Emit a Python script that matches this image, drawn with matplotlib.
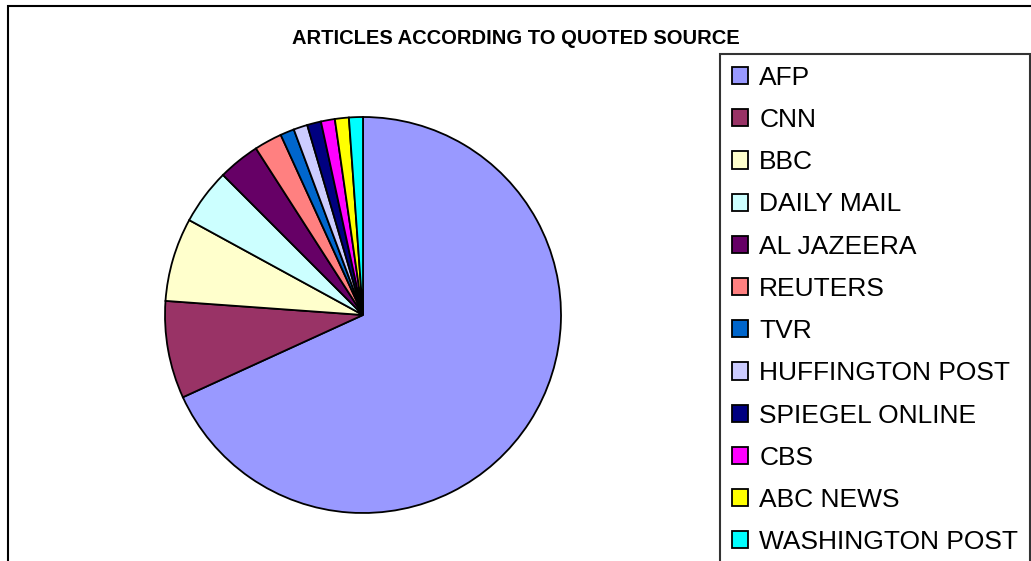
import matplotlib.pyplot as plt
from matplotlib.patches import Rectangle, Patch

# article counts per quoted source
sources = ["AFP", "CNN", "BBC", "DAILY MAIL", "AL JAZEERA", "REUTERS", "TVR",
           "HUFFINGTON POST", "SPIEGEL ONLINE", "CBS", "ABC NEWS",
           "WASHINGTON POST"]
counts = [60, 7, 6, 4, 3, 2, 1, 1, 1, 1, 1, 1]
colors = ["#9999FF", "#993366", "#FFFFCC", "#CCFFFF", "#660066", "#FF8080",
          "#0066CC", "#CCCCFF", "#000080", "#FF00FF", "#FFFF00", "#00FFFF"]
title = "ARTICLES ACCORDING TO QUOTED SOURCE"

W, H = 1031, 561
plt.rcParams['font.family'] = ['Liberation Sans', 'DejaVu Sans']


def main():
    fig = plt.figure(figsize=(W / 100, H / 100), dpi=100)

    # outer chart frame (runs off the right and bottom edge)
    fig.patches.append(Rectangle((8 / W, -0.1), 1.2, 1 - 6 / H + 0.1,
                                 transform=fig.transFigure, fill=False,
                                 edgecolor="black", linewidth=1.5))

    fig.text(516 / W, 1 - 39 / H, title, ha="center", va="center",
             fontsize=14.5, fontweight="bold")

    cx, cy, r = 363, 315, 198
    ax = fig.add_axes([(cx - r) / W, (H - cy - r) / H, 2 * r / W, 2 * r / H])
    ax.pie(counts, colors=colors, startangle=90, counterclock=False,
           wedgeprops=dict(edgecolor="black", linewidth=1.3))
    ax.set_xlim(-1, 1)
    ax.set_ylim(-1, 1)
    ax.set_aspect("equal")
    ax.axis("off")

    handles = [Patch(facecolor=c, edgecolor="black", linewidth=1.3)
               for c in colors]
    leg = fig.legend(handles, sources, loc="upper left",
                     bbox_to_anchor=(720 / W, 1 - 54 / H),
                     bbox_transform=fig.transFigure, fontsize=19,
                     frameon=True, fancybox=False, borderaxespad=0,
                     handlelength=0.62, handleheight=0.62,
                     handletextpad=0.42, labelspacing=0.69, borderpad=0.45)
    leg.get_frame().set_edgecolor("black")
    leg.get_frame().set_linewidth(1.5)

    fig.savefig("out.png", dpi=100)


if __name__ == "__main__":
    main()
